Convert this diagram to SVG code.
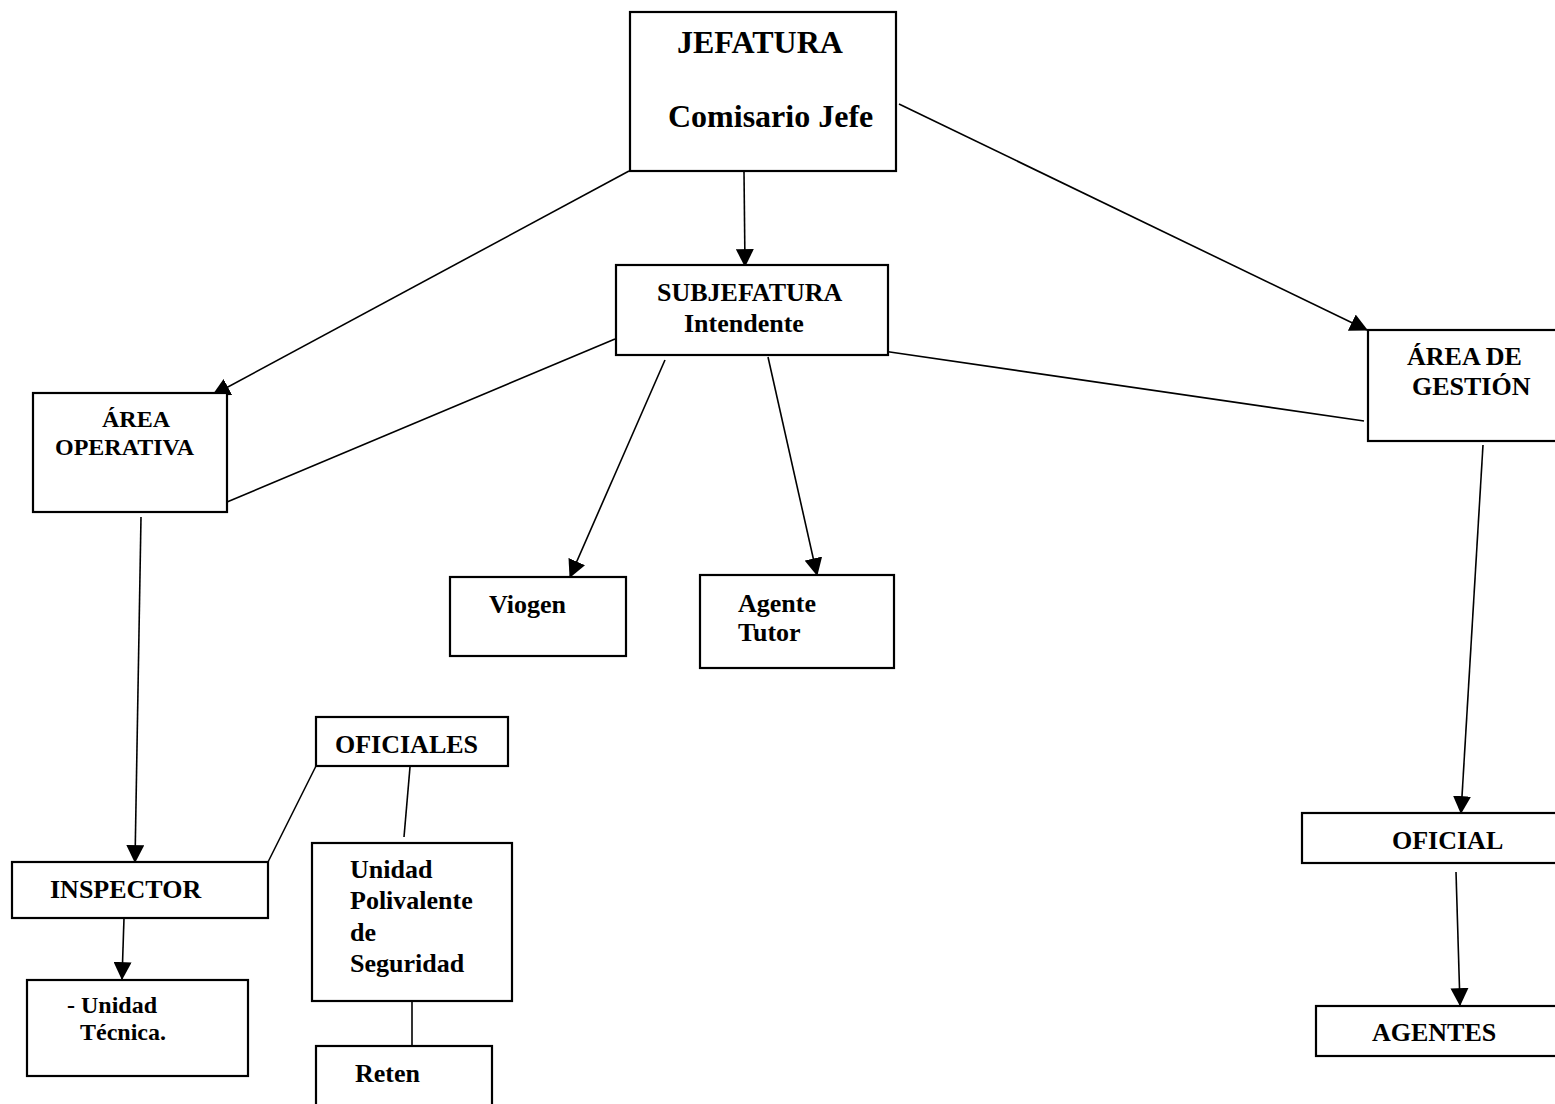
<svg xmlns="http://www.w3.org/2000/svg" width="1555" height="1104" viewBox="0 0 1555 1104">
<style>
.box{fill:#fff;stroke:#000;stroke-width:2.2}
.t{font-family:"Liberation Serif","Times New Roman",serif;font-weight:bold;font-size:26px;fill:#000}
.c{stroke:#000;stroke-width:1.6;fill:none}
</style>
<defs>
<marker id="ah" markerUnits="userSpaceOnUse" markerWidth="18" markerHeight="18" viewBox="0 0 16 16" refX="15" refY="8" orient="auto">
<path d="M0,0 L16,8 L0,16 Z" fill="#000"/>
</marker>
</defs>
<rect width="1555" height="1104" fill="#fff"/>
<g id="connectors">
<line class="c" x1="744" y1="172" x2="745" y2="266" marker-end="url(#ah)"/>
<line class="c" x1="629" y1="171" x2="213" y2="395" marker-end="url(#ah)"/>
<line class="c" x1="899" y1="104" x2="1367" y2="330" marker-end="url(#ah)"/>
<line class="c" x1="615" y1="339" x2="227" y2="502"/>
<line class="c" x1="883" y1="351" x2="1364" y2="421"/>
<line class="c" x1="665" y1="360" x2="570" y2="577" marker-end="url(#ah)"/>
<line class="c" x1="768" y1="357" x2="817" y2="575" marker-end="url(#ah)"/>
<line class="c" x1="141" y1="517" x2="135" y2="862" marker-end="url(#ah)"/>
<line class="c" x1="124" y1="918" x2="122" y2="979" marker-end="url(#ah)"/>
<line class="c" x1="316" y1="766" x2="268" y2="862"/>
<line class="c" x1="410" y1="767" x2="404" y2="837"/>
<line class="c" x1="412" y1="998" x2="412" y2="1046"/>
<line class="c" x1="1483" y1="445" x2="1461" y2="813" marker-end="url(#ah)"/>
<line class="c" x1="1456" y1="872" x2="1460" y2="1005" marker-end="url(#ah)"/>
</g>
<g id="jefatura">
<rect class="box" x="630" y="12" width="266" height="159"/>
<text class="t" x="677" y="53" style="font-size:32px">JEFATURA</text>
<text class="t" x="668" y="127" style="font-size:32px">Comisario Jefe</text>
</g>
<g id="subjefatura">
<rect class="box" x="616" y="265" width="272" height="90"/>
<text class="t" x="657" y="301">SUBJEFATURA</text>
<text class="t" x="684" y="332">Intendente</text>
</g>
<g id="area-gestion">
<rect class="box" x="1368" y="330" width="200" height="111"/>
<text class="t" x="1407" y="365">ÁREA DE</text>
<text class="t" x="1412" y="395">GESTIÓN</text>
</g>
<g id="area-operativa">
<rect class="box" x="33" y="393" width="194" height="119"/>
<text class="t" x="102" y="427" style="font-size:24px">ÁREA</text>
<text class="t" x="55" y="455" style="font-size:24px">OPERATIVA</text>
</g>
<g id="viogen">
<rect class="box" x="450" y="577" width="176" height="79"/>
<text class="t" x="489" y="613">Viogen</text>
</g>
<g id="agente-tutor">
<rect class="box" x="700" y="575" width="194" height="93"/>
<text class="t" x="738" y="612">Agente</text>
<text class="t" x="738" y="641">Tutor</text>
</g>
<g id="oficiales">
<rect class="box" x="316" y="717" width="192" height="49"/>
<text class="t" x="335" y="753">OFICIALES</text>
</g>
<g id="inspector">
<rect class="box" x="12" y="862" width="256" height="56"/>
<text class="t" x="50" y="898">INSPECTOR</text>
</g>
<g id="unidad-tecnica">
<rect class="box" x="27" y="980" width="221" height="96"/>
<text class="t" x="67" y="1013" style="font-size:24px">- Unidad</text>
<text class="t" x="80" y="1040" style="font-size:24px">Técnica.</text>
</g>
<g id="unidad-polivalente">
<rect class="box" x="312" y="843" width="200" height="158"/>
<text class="t" x="350" y="878">Unidad</text>
<text class="t" x="350" y="909">Polivalente</text>
<text class="t" x="350" y="941">de</text>
<text class="t" x="350" y="972">Seguridad</text>
</g>
<g id="reten">
<rect class="box" x="316" y="1046" width="176" height="80"/>
<text class="t" x="355" y="1082">Reten</text>
</g>
<g id="oficial">
<rect class="box" x="1302" y="813" width="270" height="50"/>
<text class="t" x="1392" y="849">OFICIAL</text>
</g>
<g id="agentes">
<rect class="box" x="1316" y="1006" width="256" height="50"/>
<text class="t" x="1372" y="1041">AGENTES</text>
</g>
</svg>
